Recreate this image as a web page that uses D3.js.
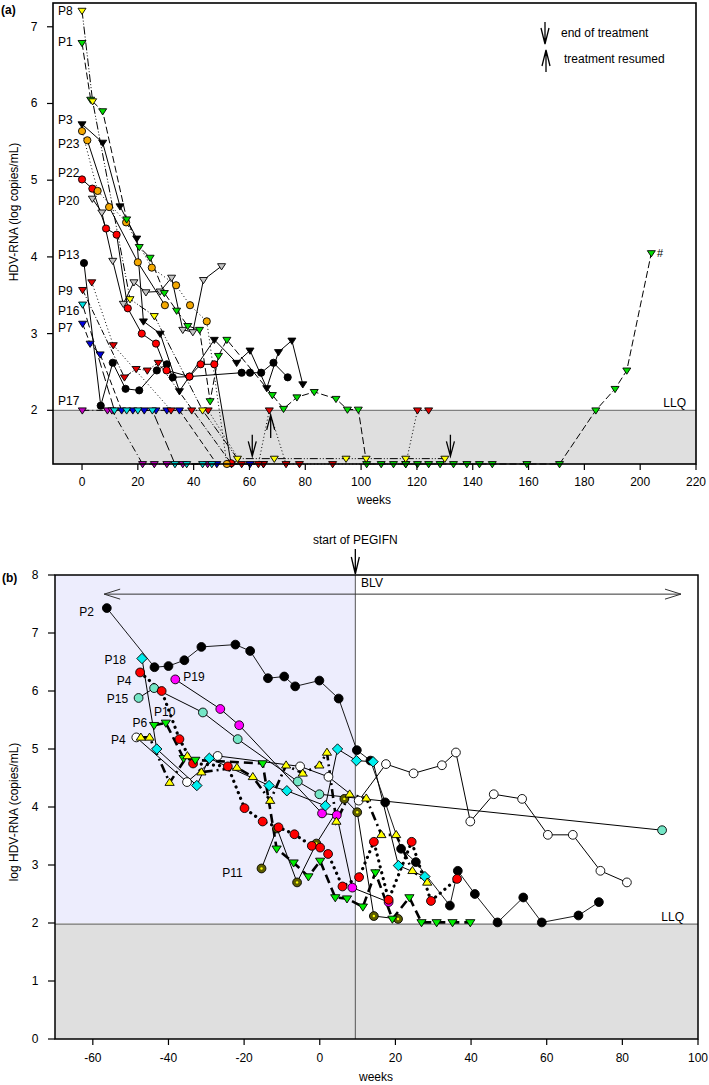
<!DOCTYPE html>
<html><head><meta charset="utf-8">
<script src="https://cdn.jsdelivr.net/npm/d3@7"></script>
<style>body{margin:0;background:#fff}svg{display:block;font-family:"Liberation Sans",Arial,Helvetica,sans-serif}</style>
</head><body><svg id="c" width="709" height="1085"></svg>
<script>
// ---------------- DATA: panel (a) ----------------
const aWeekTicks = [0,20,40,60,80,100,120,140,160,180,200,220];
const aValueTicks = [2,3,4,5,6,7];
const aP8  = [[0,7.21],[3.8,6.03],[17.2,3.45],[25.9,3.23],[43.2,2.0],[55.7,1.37],[68.9,1.37],[94.6,1.37],[101.8,1.37],[116,1.37],[130,1.37]];
const aP1  = [[0,6.79],[3.1,6.05],[7.4,5.9],[16,4.49],[20.5,4.13],[24.4,3.99],[29.5,3.53],[33.9,3.30],[37.9,3.10],[42.1,3.05],[45.9,2.12],[48.9,2.71],[51.9,2.92],[68.2,2.2],[72.2,2.02],[77,2.17],[83.2,2.24],[91,2.15],[95.1,2.01],[99,2.01],[102,1.3],[107.2,1.3],[111.6,1.3],[116,1.3],[120.2,1.3],[124.2,1.3],[128.3,1.3],[133.1,1.3],[137.9,1.3],[142.4,1.3],[147,1.3],[159.4,1.3],[171.1,1.3],[184.1,2.0],[191,2.28],[195.2,2.52],[204,4.05]];
const aP3  = [[0,5.73],[7.4,5.49],[13.6,4.66],[19.6,4.24],[22,3.16],[28,3.0],[34.9,2.25],[47.4,2.92],[55.4,2.62],[60.2,2.78],[66.2,2.29],[70.4,2.76],[75.2,2.91],[79.1,2.34]];
const aP23a = [[0,5.64],[5.6,4.86],[15.8,4.45],[25,3.86],[33.7,3.63],[38.7,3.37],[44.7,3.16],[51.9,1.3]];
const aP23b = [[1.9,5.52],[9.7,4.65],[20,3.93],[29.7,3.37]];
const aP22 = [[0,5.01],[3.7,4.89],[8.6,4.37],[12.4,4.29],[16.4,3.33],[21.4,3.0],[26.5,2.87],[30.3,2.52],[38.5,2.44],[42.5,2.60],[47.4,2.60],[53.4,1.31]];
const aP20 = [[3.7,4.76],[7.1,4.58],[11,3.95],[14.8,3.39],[18.6,3.67],[22.9,3.54],[28,3.55],[32.1,3.73],[36.1,3.05],[39.7,3.02],[43.5,3.70],[50,3.88]];
const aP13 = [[0.7,3.92],[6.7,2.06],[11,2.62],[15.6,2.28],[20.5,2.26],[26.8,2.52],[30.4,2.60],[32.5,2.43],[38.5,2.44],[57.2,2.49],[60.2,2.49],[64.2,2.49],[68.6,2.62],[73.7,2.43]];
const aP9a = [[3.5,3.67],[11.2,2.85],[31.9,2.0],[39.3,2.0],[45.2,2.0],[57.2,1.3],[63.2,1.3],[67.1,2.0],[73.1,1.3],[77.9,1.3],[89.8,1.3],[116,1.3],[120.2,2.0],[124.2,2.0]];
const aP9b = [[0.2,3.57],[15.2,2.43],[19.4,2.54],[23.4,2.52],[27.3,2.62],[53.6,1.3],[65,1.3]];
const aP16 = [[0.2,3.38],[11.6,2.0],[16,2.0],[20,2.0],[25.2,2.0],[33.3,1.3],[37.5,1.3],[43.2,1.3],[46.5,1.3]];
const aP7  = [[0.2,3.13],[2.9,2.87],[6.5,2.73],[14.2,2.0],[18.2,2.0],[22.3,2.0],[26.5,2.0],[30.4,2.0],[34.9,2.0],[48.3,1.3],[60.2,1.3],[65,1.3]];
const aP17 = [[0.1,2.0],[9.1,2.0],[10.7,2.0],[21.7,1.3],[25.9,1.3],[30.4,1.3],[36.1,1.3],[45,1.3]];
const aLabels = ["P8","P1","P3","P23","P22","P20","P13","P9","P16","P7","P17"];
const aLabelValues = [7.2,6.8,5.78,5.47,5.1,4.73,4.03,3.56,3.3,3.07,2.12];
const aEndTreatment = [61,132];
const aResumed = [67.6];

// ---------------- DATA: panel (b) ----------------
const bWeekTicks = [-60,-40,-20,0,20,40,60,80,100];
const bValueTicks = [0,1,2,3,4,5,6,7,8];
const bStartPEGIFN = 9.4;
const bBLV = [-57,95.5];
const bP2  = [[-56.3,7.43],[-43.7,6.41],[-40,6.43],[-35.8,6.53],[-31.3,6.76],[-22.3,6.80],[-18.4,6.69],[-13.7,6.22],[-9.4,6.25],[-6.5,6.08],[-0.1,6.18],[5,5.87],[9.8,4.98],[13.4,4.8],[17.3,4.08],[21.5,3.28],[25.4,3.05],[34.4,2.3],[36.5,2.9],[41,2.5],[47,2.01],[53.8,2.44],[58.7,2.01],[68.4,2.13],[73.8,2.36]];
const bP18 = [[-47,6.56],[-43.1,5.0],[-32.5,4.37],[-29.2,4.84],[-13.4,4.37],[-8.7,4.28],[1.5,4.02],[4.7,5.0],[9.7,4.8],[14.1,4.78],[20.8,2.99],[27.8,2.80]];
const bP4a = [[-47.5,6.32],[-41.8,6.0],[-37.1,5.17],[-33.5,4.75],[-24.3,4.7],[-19.9,3.98],[-15.1,3.75],[-10.9,3.65],[-6.7,3.53],[-2.1,3.33],[0.1,3.3],[2.2,3.19],[6,2.63],[10.4,2.79],[14.3,3.4],[18.2,2.4],[24.3,3.4],[29.4,2.38],[36.3,2.76]];
const bP15 = [[-47.9,5.88],[-43.8,6.05],[-30.9,5.63],[-21.7,5.17],[-5.8,4.44],[-0.1,4.22],[90.5,3.6]];
const bP19 = [[-38.2,6.2],[-26.3,5.69],[-21.3,5.41],[0.6,3.89],[4.5,3.86],[8.6,2.61],[18.2,2.36]];
const bP6  = [[-43.8,5.41],[-40.7,5.45],[-36,4.84],[-32.9,4.81],[-15.1,4.75],[-11.4,3.28],[-6.9,3.04],[-3,2.8],[0.1,3.07],[4.1,2.44],[7.2,2.42],[11.4,2.28],[14.7,2.87],[19.2,2.07],[23.7,2.44],[26.9,2.01],[30.9,2.01],[35.1,2.01],[39.8,2.01]];
const bP10 = [[-47.3,5.2],[-45,5.2],[-39.7,4.42],[-35,4.88],[-31.3,4.6],[-21.9,4.68],[-17.7,4.52],[-13.1,4.11],[-8.9,4.72],[-4.5,4.58],[-0.1,4.72],[1.9,4.94],[4.4,3.75],[7.9,4.22],[12.3,4.15],[16.3,3.52],[20.2,3.52],[24.5,2.9],[28.4,2.70]];
const bP4b = [[-48.5,5.2],[-35.1,4.43],[-27,4.88],[-5.2,4.70],[2.3,4.52],[10.3,4.11],[17.5,4.74],[24.8,4.58],[32.3,4.72],[36,4.94],[39.8,3.75],[46,4.22],[53.5,4.14],[60.3,3.52],[66.9,3.52],[74.2,2.9],[81.2,2.70]];
const bP11 = [[-15.4,2.94],[-11.3,3.63],[-6,2.7],[-0.9,3.37],[6.5,4.14],[9.9,3.91],[14.3,2.12],[20.7,2.07]];
const bLabels = ["P2","P18","P4","P15","P19","P6","P10","P4","P11"];
const bLabelPos = [[-63.6,7.37],[-56.9,6.54],[-53.7,6.18],[-56.3,5.86],[-36.1,6.24],[-49.5,5.44],[-43.8,5.63],[-55.2,5.16],[-25.8,2.87]];

// ---------------- DRAWING ----------------
const svg = d3.select('#c');
const FONT = 12;

function marker(g, shape, x, y, fill, r) {
  let pts;
  if (shape === 'circle' || shape === 'circledot') {
    g.append('circle').attr('cx',x).attr('cy',y).attr('r',r).attr('fill',fill).attr('stroke','#000').attr('stroke-width',0.9);
    if (shape === 'circledot') g.append('circle').attr('cx',x).attr('cy',y).attr('r',1.2).attr('fill','#ffff00');
    return;
  }
  if (shape === 'down') pts = [[x-r,y-r*0.6],[x+r,y-r*0.6],[x,y+r*0.95]];
  else if (shape === 'up') pts = [[x-r,y+r*0.6],[x+r,y+r*0.6],[x,y-r*0.95]];
  else if (shape === 'diamond') pts = [[x,y-r],[x+r,y],[x,y+r],[x-r,y]];
  g.append('path').attr('d','M'+pts.map(p=>p.join(',')).join('L')+'Z')
    .attr('fill',fill).attr('stroke','#000').attr('stroke-width',0.9).attr('stroke-linejoin','miter');
}

function vArrow(g, x, yTail, yTip, hw, hl) {
  const dir = yTip > yTail ? 1 : -1;
  g.append('path').attr('d',`M${x},${yTail}L${x},${yTip}M${x-hw},${yTip-dir*hl}L${x},${yTip}L${x+hw},${yTip-dir*hl}`)
    .attr('fill','none').attr('stroke','#000').attr('stroke-width',1.3);
}

// ===== Panel (a) =====
const ax = d3.scaleLinear().domain([-10.4,220]).range([53,696]);
const ay = d3.scaleLinear().domain([1.3,7.31]).range([464,3]);
const ga = svg.append('g');
ga.append('rect').attr('x',53).attr('y',ay(2)).attr('width',696-53).attr('height',464-ay(2)).attr('fill','#dfdfdf');
ga.append('line').attr('x1',53).attr('x2',696).attr('y1',ay(2)).attr('y2',ay(2)).attr('stroke','#666').attr('stroke-width',1);
ga.append('text').attr('x',686).attr('y',ay(2)-7).attr('text-anchor','end').attr('dominant-baseline','central').attr('font-size',FONT).text('LLQ');

const aSeries = [
  {d:aP17, shape:'down', fill:'#c000c0', dash:'7,3,1,3'},
  {d:aP7, shape:'down', fill:'#0000dd', dash:'6,3'},
  {d:aP16, shape:'down', fill:'#00e0e0', dash:'10,4'},
  {d:aP9b, shape:'down', fill:'#e00000', dash:'6,2,1,2'},
  {d:aP9a, shape:'down', fill:'#e00000', dash:'1,2.5'},
  {d:aP13, shape:'circle', fill:'#000', dash:null},
  {d:aP20, shape:'down', fill:'#c4c4c4', dash:null},
  {d:aP22, shape:'circle', fill:'#ff0000', dash:null},
  {d:aP23b, shape:'circle', fill:'#f4a800', dash:null},
  {d:aP23a, shape:'circle', fill:'#f4a800', dash:'1,2.5'},
  {d:aP3, shape:'down', fill:'#000', dash:null},
  {d:aP1, shape:'down', fill:'#00dd00', dash:'7,3'},
  {d:aP8, shape:'down', fill:'#ffff00', dash:'8,2,1,2,1,2'}
];
const aLine = d3.line().x(d=>ax(d[0])).y(d=>ay(d[1]));
aSeries.forEach(s=>{
  ga.append('path').attr('d',aLine(s.d)).attr('fill','none').attr('stroke','#000').attr('stroke-width',1)
    .attr('stroke-dasharray',s.dash);
});
aSeries.forEach(s=>{
  s.d.forEach(p=>marker(ga,s.shape,ax(p[0]),ay(p[1]),s.fill,s.shape==='circle'?3.6:4));
});
// frame
ga.append('rect').attr('x',53).attr('y',3).attr('width',696-53).attr('height',461).attr('fill','none').attr('stroke','#000').attr('stroke-width',1.6);
// axes
aValueTicks.forEach(v=>{
  ga.append('line').attr('x1',47).attr('x2',53).attr('y1',ay(v)).attr('y2',ay(v)).attr('stroke','#000').attr('stroke-width',1.2);
  ga.append('text').attr('x',34).attr('y',ay(v)).attr('text-anchor','middle').attr('dominant-baseline','central').attr('font-size',FONT).text(v);
});
aWeekTicks.forEach(v=>{
  ga.append('line').attr('x1',ax(v)).attr('x2',ax(v)).attr('y1',464).attr('y2',470).attr('stroke','#000').attr('stroke-width',1.2);
  ga.append('text').attr('x',ax(v)).attr('y',482).attr('text-anchor','middle').attr('dominant-baseline','central').attr('font-size',FONT).text(v);
});
ga.append('text').attr('x',374).attr('y',500).attr('text-anchor','middle').attr('dominant-baseline','central').attr('font-size',FONT).text('weeks');
ga.append('text').attr('transform','translate(14,212) rotate(-90)').attr('text-anchor','middle').attr('dominant-baseline','central').attr('font-size',FONT).text('HDV-RNA (log copies/mL)');
ga.append('text').attr('x',1).attr('y',10).attr('dominant-baseline','central').attr('font-size',FONT).attr('font-weight','bold').text('(a)');
aLabels.forEach((t,i)=>{
  ga.append('text').attr('x',58).attr('y',ay(aLabelValues[i])).attr('dominant-baseline','central').attr('font-size',FONT).text(t);
});
ga.append('text').attr('x',657).attr('y',ay(4.05)).attr('dominant-baseline','central').attr('font-size',11).text('#');
aEndTreatment.forEach(w=>vArrow(ga, ax(w), ay(1.68), ay(1.4), 4, 15));
aResumed.forEach(w=>vArrow(ga, ax(w), ay(1.64), ay(1.94), 4, 15));
// legend
vArrow(ga,545,22,44,4,16);
ga.append('text').attr('x',561).attr('y',33).attr('dominant-baseline','central').attr('font-size',FONT).text('end of treatment');
vArrow(ga,546,72,50,4,16);
ga.append('text').attr('x',564).attr('y',59).attr('dominant-baseline','central').attr('font-size',FONT).text('treatment resumed');

// ===== Panel (b) =====
const bx = d3.scaleLinear().domain([-70,100]).range([55,698]);
const by = d3.scaleLinear().domain([0,8]).range([1039,575]);
const gb = svg.append('g');
gb.append('rect').attr('x',55).attr('y',575).attr('width',bx(bStartPEGIFN)-55).attr('height',by(2)-575).attr('fill','#ededfd');
gb.append('rect').attr('x',55).attr('y',by(2)).attr('width',698-55).attr('height',1039-by(2)).attr('fill','#dfdfdf');
gb.append('line').attr('x1',55).attr('x2',698).attr('y1',by(1.98)).attr('y2',by(1.98)).attr('stroke','#666').attr('stroke-width',1);
gb.append('line').attr('x1',bx(bStartPEGIFN)).attr('x2',bx(bStartPEGIFN)).attr('y1',575).attr('y2',1039).attr('stroke','#555').attr('stroke-width',1);
gb.append('text').attr('x',684).attr('y',917).attr('text-anchor','end').attr('dominant-baseline','central').attr('font-size',FONT).text('LLQ');

// BLV double arrow
const blvY = by(7.67), bl = bx(bBLV[0]), br = bx(bBLV[1]);
gb.append('path').attr('d',`M${bl},${blvY}L${br},${blvY}M${bl+16},${blvY-5}L${bl},${blvY}L${bl+16},${blvY+5}M${br-16},${blvY-5}L${br},${blvY}L${br-16},${blvY+5}`)
  .attr('fill','none').attr('stroke','#333').attr('stroke-width',1);
gb.append('text').attr('x',372).attr('y',blvY-11).attr('text-anchor','middle').attr('dominant-baseline','central').attr('font-size',FONT).text('BLV');

const bSeries = [
  {d:bP2, shape:'circle', fill:'#000', dash:null, w:0.9},
  {d:bP4b, shape:'circle', fill:'#fff', dash:null, w:1},
  {d:bP15, shape:'circle', fill:'#74e6c6', dash:null, w:1},
  {d:bP19, shape:'circle', fill:'#ff00ff', dash:null, w:1},
  {d:bP18, shape:'diamond', fill:'#00eeee', dash:null, w:1},
  {d:bP11, shape:'circledot', fill:'#5c5c00', dash:null, w:1},
  {d:bP4a, shape:'circle', fill:'#ff0000', dash:'0.1,6', w:3.2, cap:'round'},
  {d:bP6, shape:'down', fill:'#00ee00', dash:'9,5', w:2.6},
  {d:bP10, shape:'up', fill:'#ffff00', dash:'9,4,2,4', w:2.6}
];
const bLine = d3.line().x(d=>bx(d[0])).y(d=>by(d[1]));
bSeries.forEach(s=>{
  gb.append('path').attr('d',bLine(s.d)).attr('fill','none').attr('stroke','#000').attr('stroke-width',s.w)
    .attr('stroke-dasharray',s.dash).attr('stroke-linecap',s.cap||'butt');
});
bSeries.forEach(s=>{
  const r = s.shape==='diamond'?5.2:(s.shape==='up'||s.shape==='down')?4.6:4.4;
  s.d.forEach(p=>marker(gb,s.shape,bx(p[0]),by(p[1]),s.fill,r));
});
gb.append('rect').attr('x',55).attr('y',575).attr('width',698-55).attr('height',1039-575).attr('fill','none').attr('stroke','#000').attr('stroke-width',1.5);
bValueTicks.forEach(v=>{
  gb.append('line').attr('x1',48).attr('x2',55).attr('y1',by(v)).attr('y2',by(v)).attr('stroke','#000').attr('stroke-width',1.2);
  gb.append('text').attr('x',35).attr('y',by(v)).attr('text-anchor','middle').attr('dominant-baseline','central').attr('font-size',FONT).text(v);
});
bWeekTicks.forEach(v=>{
  gb.append('line').attr('x1',bx(v)).attr('x2',bx(v)).attr('y1',1039).attr('y2',1045).attr('stroke','#000').attr('stroke-width',1.2);
  gb.append('text').attr('x',bx(v)).attr('y',1058).attr('text-anchor','middle').attr('dominant-baseline','central').attr('font-size',FONT).text(v);
});
gb.append('text').attr('x',376).attr('y',1077).attr('text-anchor','middle').attr('dominant-baseline','central').attr('font-size',FONT).text('weeks');
gb.append('text').attr('transform','translate(14,812) rotate(-90)').attr('text-anchor','middle').attr('dominant-baseline','central').attr('font-size',FONT).text('log HDV-RNA (copies/mL)');
gb.append('text').attr('x',2).attr('y',578).attr('dominant-baseline','central').attr('font-size',FONT).attr('font-weight','bold').text('(b)');
gb.append('text').attr('x',bx(bStartPEGIFN)).attr('y',540).attr('text-anchor','middle').attr('dominant-baseline','central').attr('font-size',FONT).text('start of PEGIFN');
vArrow(gb,bx(bStartPEGIFN),549,574,4,17);
bLabels.forEach((t,i)=>{
  gb.append('text').attr('x',bx(bLabelPos[i][0])).attr('y',by(bLabelPos[i][1])).attr('dominant-baseline','central').attr('font-size',FONT).text(t);
});
</script></body></html>
